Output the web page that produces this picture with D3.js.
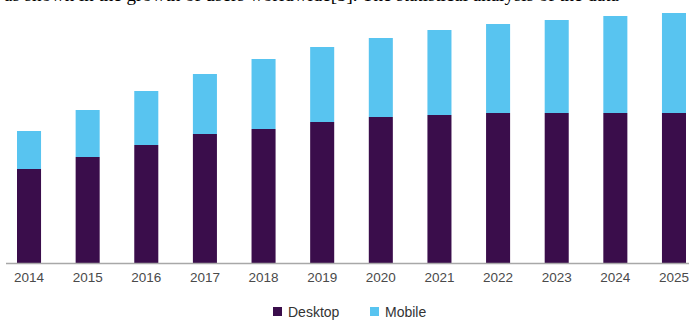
<!DOCTYPE html>
<html>
<head>
<meta charset="utf-8">
<script src="https://cdn.jsdelivr.net/npm/d3@7"></script>
<style>
  html, body { margin: 0; padding: 0; background: #fff; }
  svg { display: block; }
</style>
</head>
<body>
<div id="wrapper"></div>
<script>
// data (no y axis in the source, arbitrary units)
const years = ["2014", "2015", "2016", "2017", "2018", "2019", "2020", "2021", "2022", "2023", "2024", "2025"]
const desktop = [9.4, 10.6, 11.8, 12.9, 13.4, 14.1, 14.6, 14.8, 15.0, 15.0, 15.0, 15.0]
const mobile = [3.8, 4.7, 5.4, 6.0, 7.0, 7.5, 7.9, 8.5, 8.9, 9.3, 9.7, 10.0]
const seriesNames = ["Desktop", "Mobile"]
const colors = ["#3a0d4b", "#58c4f0"]

function drawChart() {
  let dimensions = {
    width: 689,
    height: 320,
    margins: { top: 13, right: 0, bottom: 57, left: 0 },
  }
  dimensions.boundedWidth = dimensions.width - dimensions.margins.left - dimensions.margins.right
  dimensions.boundedHeight = dimensions.height - dimensions.margins.top - dimensions.margins.bottom

  const table = years.map((y, i) => ({ year: y, Desktop: desktop[i], Mobile: mobile[i] }))
  const stacked = d3.stack().keys(seriesNames)(table)

  const wrapper = d3.select("#wrapper")
    .append("svg")
    .attr("width", dimensions.width)
    .attr("height", dimensions.height)

  // line of body text from the page above the figure, clipped by the crop
  wrapper.append("text")
    .attr("x", 4)
    .attr("y", 1)
    .attr("font-family", "Liberation Serif, serif")
    .attr("font-size", 19)
    .attr("fill", "#000")
    .text("as shown in the growth of users worldwide[5]. The statistical analysis of the data")

  const bounds = wrapper.append("g")
    .attr("transform", `translate(${dimensions.margins.left},${dimensions.margins.top})`)

  const xScale = d3.scaleBand()
    .domain(years)
    .range([0, 703])
    .paddingInner(0.59)
    .paddingOuter(0.29)

  const yScale = d3.scaleLinear()
    .domain([0, 25])
    .range([dimensions.boundedHeight, 0])

  const color = d3.scaleOrdinal().domain(seriesNames).range(colors)

  const baseY = yScale(0)

  bounds.append("g")
    .selectAll("g")
    .data(stacked)
    .join("g")
    .attr("fill", d => color(d.key))
    .selectAll("rect")
    .data(d => d)
    .join("rect")
    .attr("x", d => xScale(d.data.year))
    .attr("width", xScale.bandwidth())
    .attr("y", d => yScale(d[1]))
    .attr("height", d => yScale(d[0]) - yScale(d[1]))

  // x axis
  const xAxisGenerator = d3.axisBottom(xScale).tickSize(0).tickPadding(9)
  const xAxis = bounds.append("g")
    .attr("transform", `translate(0,${baseY})`)
    .call(xAxisGenerator)
  xAxis.select(".domain").remove()
  xAxis.selectAll("text")
    .attr("font-family", "Liberation Sans, Arial, sans-serif")
    .attr("font-size", 13.5)
    .attr("fill", "#4a4a4a")

  bounds.append("line")
    .attr("x1", 6)
    .attr("x2", dimensions.width)
    .attr("y1", baseY + 0.5)
    .attr("y2", baseY + 0.5)
    .attr("stroke", "#a8a8a8")
    .attr("stroke-width", 1.5)

  // legend
  const legendX = [273, 370]
  const legend = wrapper.append("g")
    .selectAll("g")
    .data(seriesNames)
    .join("g")
    .attr("transform", (d, i) => `translate(${legendX[i]},307)`)
  legend.append("rect")
    .attr("width", 9)
    .attr("height", 9)
    .attr("fill", d => color(d))
  legend.append("text")
    .attr("x", 15)
    .attr("y", 9.5)
    .attr("font-family", "Liberation Sans, Arial, sans-serif")
    .attr("font-size", 14)
    .attr("fill", "#333")
    .text(d => d)
}
drawChart()
</script>
</body>
</html>
